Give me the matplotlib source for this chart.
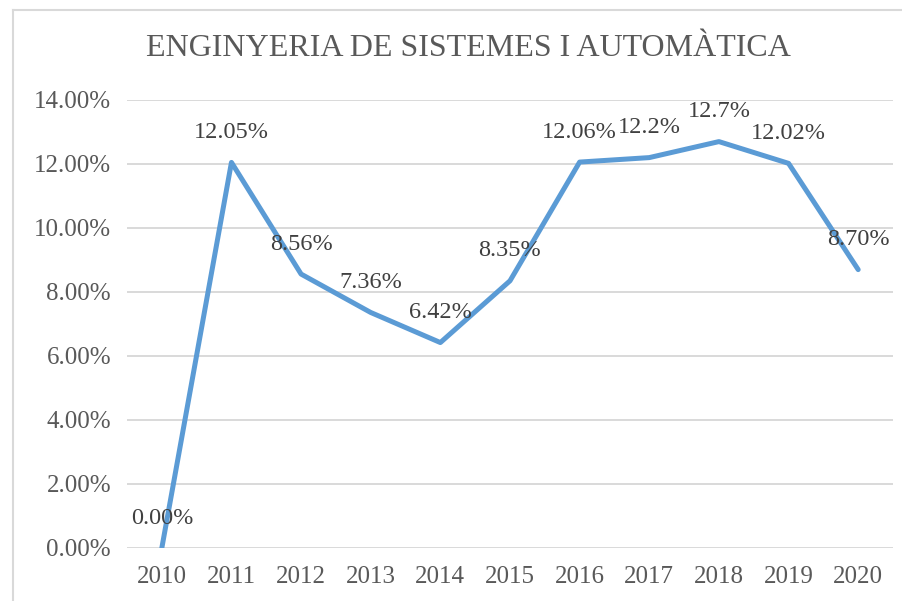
import matplotlib
matplotlib.use("Agg")
import matplotlib.pyplot as plt
from matplotlib.lines import Line2D

years = ["2010", "2011", "2012", "2013", "2014", "2015", "2016", "2017", "2018", "2019", "2020"]
values = [0.00, 12.05, 8.56, 7.36, 6.42, 8.35, 12.06, 12.2, 12.7, 12.02, 8.70]
labels = ["0.00%", "12.05%", "8.56%", "7.36%", "6.42%", "8.35%", "12.06%", "12.2%", "12.7%", "12.02%", "8.70%"]
yticks = [0, 2, 4, 6, 8, 10, 12, 14]
ytick_labels = ["0.00%", "2.00%", "4.00%", "6.00%", "8.00%", "10.00%", "12.00%", "14.00%"]
title = "ENGINYERIA DE SISTEMES I AUTOMÀTICA"

plt.rcParams['font.family'] = ['Liberation Serif', 'DejaVu Serif']

W, H = 903, 601
fig = plt.figure(figsize=(W / 100, H / 100), dpi=100)
ax = fig.add_axes([127 / W, (H - 548) / H, 766 / W, 448 / H])

x = list(range(len(years)))
ax.plot(x, values, color="#5B9BD5", linewidth=3.6, solid_capstyle="round", solid_joinstyle="round", zorder=3)

for xi, v, lab in zip(x, values, labels):
    ax.annotate(lab, (xi, v), xytext=(0, 30), textcoords="offset pixels",
                ha="center", va="center", fontsize=17.5, color="#404040", zorder=4)

ax.set_xlim(-0.5, len(years) - 0.5)
ax.set_ylim(0, 14)
ax.set_yticks(yticks)
ax.set_yticklabels(ytick_labels)
ax.set_xticks(x)
ax.set_xticklabels(years)
ax.tick_params(axis="both", length=0, labelsize=18, labelcolor="#595959")
ax.tick_params(axis="y", pad=11.5)
ax.tick_params(axis="x", pad=13)
ax.grid(axis="y", color="#D9D9D9", linewidth=1.4)
ax.set_axisbelow(True)
for s in ax.spines.values():
    s.set_visible(False)

fig.text(468 / W, 1 - 49 / H, title, ha="center", va="center", fontsize=23, color="#595959")

# chart area border (top and left visible)
fig.add_artist(Line2D([13.5 / W, 1], [1 - 9.5 / H, 1 - 9.5 / H], color="#D9D9D9", linewidth=1.5))
fig.add_artist(Line2D([13.5 / W, 13.5 / W], [0, 1 - 9.5 / H], color="#D9D9D9", linewidth=1.5))

fig.savefig("out.png", dpi=100)
